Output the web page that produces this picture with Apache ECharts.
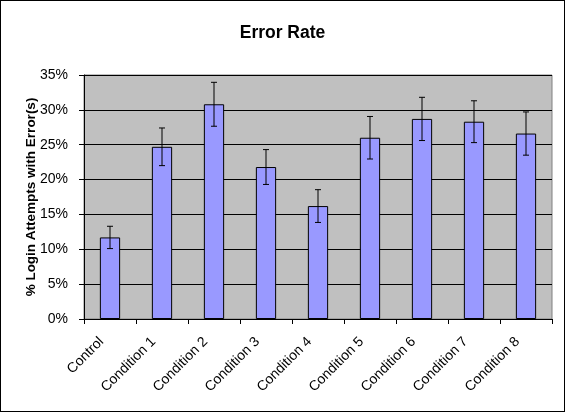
<!DOCTYPE html>
<html>
<head>
<meta charset="utf-8">
<script src="https://cdn.jsdelivr.net/npm/echarts@6/dist/echarts.min.js"></script>
<style>
html, body { margin: 0; padding: 0; background: #fff; }
#frame { width: 565px; height: 412px; box-sizing: border-box; border: 1px solid #000; }
#main { width: 563px; height: 410px; }
</style>
</head>
<body>
<div id="frame"><div id="main"></div></div>
<script>
var myChart = echarts.init(document.getElementById('main'));

var categories = ['Control', 'Condition 1', 'Condition 2', 'Condition 3', 'Condition 4',
    'Condition 5', 'Condition 6', 'Condition 7', 'Condition 8'];
// mean error rate (%)
var rates = [11.7, 24.7, 30.8, 21.8, 16.2, 26.0, 28.7, 28.3, 26.6];
// half-width of the error bar (%)
var errors = [1.6, 2.7, 3.15, 2.5, 2.35, 3.05, 3.1, 3.0, 3.1];

var errData = [];
for (var i = 0; i < rates.length; i++) {
    errData.push([i, rates[i] - errors[i], rates[i] + errors[i]]);
}

var option = {
    backgroundColor: '#fff',
    animation: false,
    title: {
        text: 'Error Rate',
        left: 'center',
        top: 18,
        textStyle: {
            fontFamily: 'Liberation Sans, Arial',
            fontWeight: 'bold',
            fontSize: 17.5,
            color: '#000'
        }
    },
    grid: {
        left: 83,
        right: 12,
        top: 74,
        bottom: 92,
        show: true,
        backgroundColor: '#C0C0C0',
        borderColor: '#808080',
        borderWidth: 1
    },
    xAxis: {
        type: 'category',
        data: categories,
        axisLine: { lineStyle: { color: '#000', width: 1 } },
        axisTick: { show: true, length: 5, lineStyle: { color: '#000' } },
        axisLabel: {
            rotate: 45,
            margin: 12,
            padding: [0, 12, 0, 0],
            fontFamily: 'Liberation Sans, Arial',
            fontSize: 14,
            color: '#000',
            interval: 0
        }
    },
    yAxis: {
        type: 'value',
        min: 0,
        max: 35,
        interval: 5,
        name: '% Login Attempts with Error(s)',
        nameLocation: 'middle',
        nameGap: 46,
        nameMoveOverlap: false,
        nameTextStyle: {
            fontFamily: 'Liberation Sans, Arial',
            fontWeight: 'bold',
            fontSize: 13.5,
            color: '#000'
        },
        axisLine: { show: true, lineStyle: { color: '#000', width: 1 } },
        axisTick: { show: true, length: 5, lineStyle: { color: '#000' } },
        axisLabel: {
            formatter: '{value}%',
            margin: 16,
            fontFamily: 'Liberation Sans, Arial',
            fontSize: 14,
            color: '#000'
        },
        splitLine: { show: true, lineStyle: { color: '#000', width: 1 } }
    },
    series: [
        {
            type: 'bar',
            data: rates,
            barWidth: '39%',
            itemStyle: {
                color: '#9999FF',
                borderColor: '#000',
                borderWidth: 1
            }
        },
        {
            type: 'custom',
            data: errData,
            encode: { x: 0, y: [1, 2] },
            z: 10,
            renderItem: function (params, api) {
                var lo = api.coord([api.value(0), api.value(1)]);
                var hi = api.coord([api.value(0), api.value(2)]);
                var cap = 3;
                var style = { stroke: '#000', lineWidth: 1 };
                return {
                    type: 'group',
                    children: [
                        { type: 'line', shape: { x1: hi[0], y1: hi[1], x2: lo[0], y2: lo[1] }, style: style },
                        { type: 'line', shape: { x1: hi[0] - cap, y1: hi[1], x2: hi[0] + cap, y2: hi[1] }, style: style },
                        { type: 'line', shape: { x1: lo[0] - cap, y1: lo[1], x2: lo[0] + cap, y2: lo[1] }, style: style }
                    ]
                };
            }
        }
    ]
};

myChart.setOption(option);
</script>
</body>
</html>
